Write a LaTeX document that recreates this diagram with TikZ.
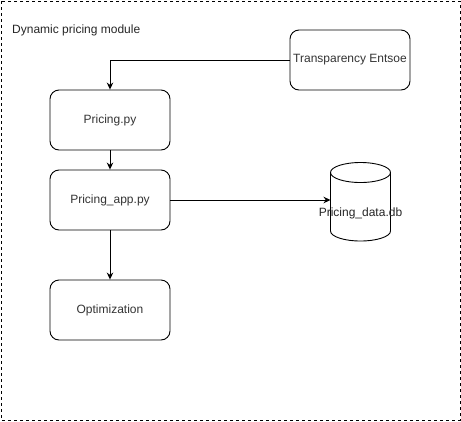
\documentclass[tikz,border=0pt]{standalone}
\usepackage{fontspec}
\setmainfont{Liberation Sans}
\usetikzlibrary{arrows.meta}
\begin{document}
\begin{tikzpicture}[x=1pt,y=-1pt,
  box/.style={draw,line width=0.9pt,rounded corners=9pt,minimum width=120pt,minimum height=60pt,inner sep=0pt,font=\fontsize{12}{14}\selectfont,text=black!80},
  conn/.style={draw,line width=1pt,-{Stealth[length=7pt,width=6.5pt]}},
  lbl/.style={font=\fontsize{12}{14}\selectfont,text=black!85}]
\useasboundingbox (0,0) rectangle (461,421);
\draw[line width=1pt,dash pattern=on 3pt off 3pt] (1,1) rectangle (460,420);
\node[lbl,anchor=west,inner sep=0pt] (title) at (12,30) {Dynamic pricing module};
\node[box] (trans) at (350,60) {Transparency Entsoe};
\node[box] (pricing) at (110,120) {Pricing.py};
\node[box] (app) at (110,200) {Pricing\_app.py};
\node[box] (opt) at (110,310) {Optimization};
% cylinder
\draw[line width=0.9pt,fill=white] (330.5,172.5) -- (330.5,231) arc[start angle=180,end angle=360,x radius=30,y radius=-10] -- (390.5,172.5);
\draw[line width=0.9pt] (360.5,172.5) ellipse [x radius=30,y radius=10];
\coordinate (db) at (330.5,200);
\node[lbl] (dblabel) at (360.5,213) {Pricing\_data.db};
\draw[conn] (trans.west) -| (pricing.north);
\draw[conn] (pricing.south) -- (app.north);
\draw[conn] (app.south) -- (opt.north);
\draw[conn] (app.east) -- (db);
\end{tikzpicture}
\end{document}
